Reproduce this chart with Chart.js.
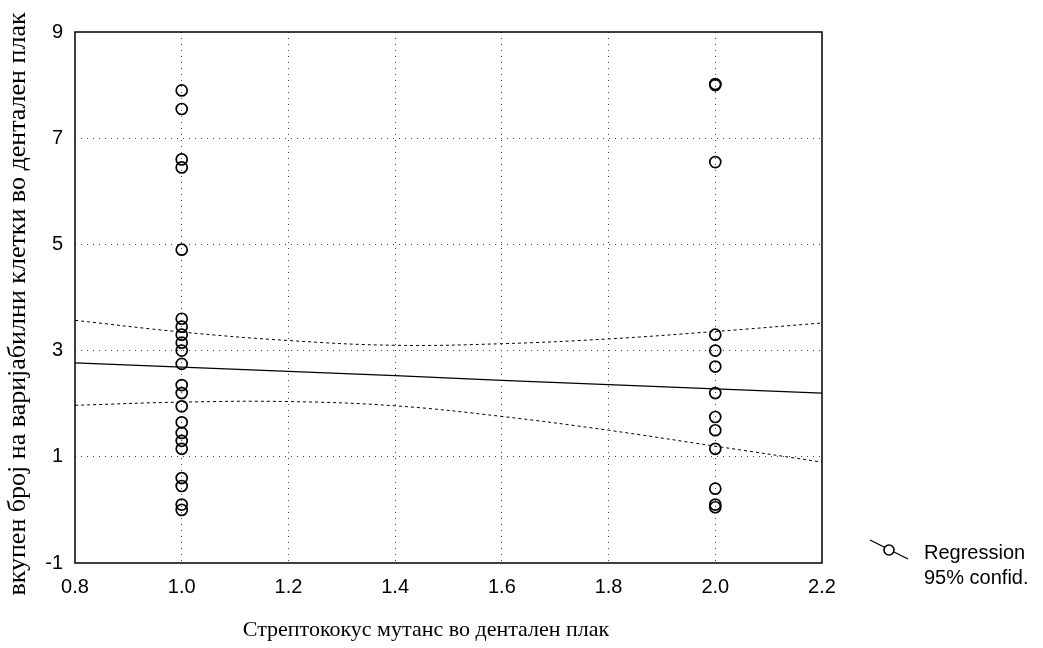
<!DOCTYPE html>
<html>
<head>
<meta charset="utf-8">
<script src="https://cdn.jsdelivr.net/npm/chart.js@4"></script>
<style>
  html, body { margin: 0; padding: 0; background: #fff; }
  #wrap { width: 1043px; height: 648px; }
</style>
</head>
<body>
<div id="wrap"><canvas id="chart" width="1043" height="648"></canvas></div>
<script>
/* =========================
   DATA
========================= */
const groupX = [1.0, 2.0];
const group1Values = [7.9, 7.55, 6.6, 6.45, 4.9, 3.6, 3.45, 3.3, 3.15, 3.0, 2.75, 2.35, 2.2, 1.95, 1.65, 1.45, 1.3, 1.15, 0.6, 0.45, 0.1, 0.0];
const group2Values = [8.0, 8.02, 6.55, 3.3, 3.0, 2.7, 2.2, 1.75, 1.5, 1.15, 0.4, 0.1, 0.05];

const lineX = [0.8, 1.0, 1.2, 1.4, 1.6, 1.8, 2.0, 2.2];
const regression = [2.77, 2.69, 2.61, 2.53, 2.44, 2.36, 2.28, 2.2];
const upperBand = [3.57, 3.35, 3.19, 3.1, 3.13, 3.22, 3.36, 3.52];
const lowerBand = [1.97, 2.03, 2.04, 1.96, 1.76, 1.5, 1.2, 0.9];

const yTicks = [-1, 1, 3, 5, 7, 9];
const xTitle = 'Стрептококус мутанс во дентален плак';
const yTitle = 'вкупен број на варијабилни клетки во дентален плак';
const legendLabels = ['Regression', '95% confid.'];

/* =========================
   BUILD DATASETS
========================= */
const points = [];
group1Values.forEach(v => points.push({ x: groupX[0], y: v }));
group2Values.forEach(v => points.push({ x: groupX[1], y: v }));

const toXY = arr => arr.map((v, i) => ({ x: lineX[i], y: v }));

/* =========================
   FRAME, TITLES, LEGEND
========================= */
const extras = {
  id: 'extras',
  afterDraw(chart) {
    const c = chart.ctx;
    const a = chart.chartArea;
    c.save();
    // frame
    c.strokeStyle = '#000';
    c.lineWidth = 1.5;
    c.strokeRect(a.left, a.top, a.right - a.left, a.bottom - a.top);

    // axis titles
    c.fillStyle = '#000';
    c.font = '22px "Liberation Serif", "Times New Roman", serif';
    c.textAlign = 'center';
    c.textBaseline = 'alphabetic';
    c.fillText(xTitle, 426, 636);

    c.save();
    c.translate(25, 304);
    c.rotate(-Math.PI / 2);
    c.font = '26px "Liberation Serif", "Times New Roman", serif';
    c.fillText(yTitle, 0, 0);
    c.restore();

    // legend
    c.lineWidth = 1.3;
    c.beginPath();
    c.moveTo(870, 540);
    c.lineTo(908, 559);
    c.stroke();
    c.fillStyle = '#fff';
    c.beginPath();
    c.arc(889, 550, 5, 0, Math.PI * 2);
    c.fill();
    c.lineWidth = 1.6;
    c.stroke();
    c.fillStyle = '#000';
    c.font = '20px "Liberation Sans", Arial, sans-serif';
    c.textAlign = 'left';
    c.fillText(legendLabels[0], 924, 559);
    c.fillText(legendLabels[1], 924, 584);
    c.restore();
  }
};

/* =========================
   CHART
========================= */
const ctx = document.getElementById('chart').getContext('2d');

const gridColor = context => {
  const v = context.tick ? context.tick.value : null;
  const s = context.scale;
  if (v === null || Math.abs(v - s.min) < 1e-6 || Math.abs(v - s.max) < 1e-6) return 'rgba(0,0,0,0)';
  return '#444';
};

new Chart(ctx, {
  type: 'scatter',
  data: {
    datasets: [
      {
        label: 'Observations',
        data: points,
        showLine: false,
        pointStyle: 'circle',
        pointRadius: 5.5,
        pointBorderWidth: 1.7,
        pointBorderColor: '#000',
        pointBackgroundColor: 'rgba(255,255,255,0)'
      },
      {
        label: legendLabels[0],
        data: toXY(regression),
        showLine: true,
        borderColor: '#000',
        borderWidth: 1.3,
        pointRadius: 0,
        fill: false
      },
      {
        label: 'Upper 95%',
        data: toXY(upperBand),
        showLine: true,
        borderColor: '#000',
        borderWidth: 1,
        borderDash: [3, 3],
        pointRadius: 0,
        tension: 0.4,
        fill: false
      },
      {
        label: 'Lower 95%',
        data: toXY(lowerBand),
        showLine: true,
        borderColor: '#000',
        borderWidth: 1,
        borderDash: [3, 3],
        pointRadius: 0,
        tension: 0.4,
        fill: false
      }
    ]
  },
  options: {
    responsive: false,
    animation: false,
    layout: { padding: { left: 0, right: 221, top: 32, bottom: 0 } },
    plugins: { legend: { display: false }, tooltip: { enabled: false } },
    scales: {
      x: {
        type: 'linear',
        min: 0.8,
        max: 2.2,
        ticks: {
          stepSize: 0.2,
          color: '#000',
          padding: 12,
          font: { family: '"Liberation Sans", Arial, sans-serif', size: 20 },
          callback: v => v.toFixed(1)
        },
        grid: { color: gridColor, lineWidth: 1, drawTicks: false },
        border: { display: false, dash: [1, 5] },
        afterFit: s => { s.height = 85; }
      },
      y: {
        type: 'linear',
        min: -1,
        max: 9,
        afterBuildTicks: s => { s.ticks = yTicks.map(v => ({ value: v })); },
        ticks: {
          color: '#000',
          padding: 12,
          font: { family: '"Liberation Sans", Arial, sans-serif', size: 20 }
        },
        grid: { color: gridColor, lineWidth: 1, drawTicks: false },
        border: { display: false, dash: [1, 5] },
        afterFit: s => { s.width = 75; }
      }
    }
  },
  plugins: [extras]
});
</script>
</body>
</html>
